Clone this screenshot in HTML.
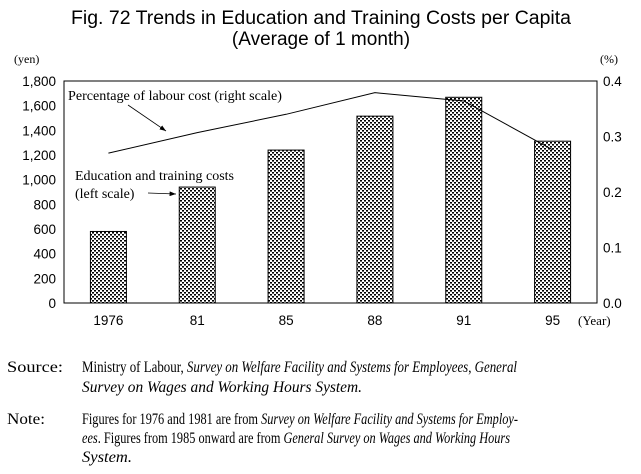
<!DOCTYPE html>
<html><head><meta charset="utf-8"><style>
body{margin:0;background:#fff;width:641px;height:474px;overflow:hidden}
svg{display:block}
.s{font-family:"Liberation Sans",sans-serif}
.r{font-family:"Liberation Serif",serif}
</style></head><body>
<svg id="c" width="641" height="474" viewBox="0 0 641 474">
<defs>
<pattern id="dots" width="4" height="4" patternUnits="userSpaceOnUse">
<rect width="4" height="4" fill="#fff"/>
<rect x="0" y="0" width="2" height="1.6" fill="#000"/>
<rect x="2" y="2" width="2" height="1.6" fill="#000"/>
</pattern>
<marker id="ah" markerWidth="8" markerHeight="6" refX="8" refY="3" orient="auto"><path d="M0,0 L8,3 L0,6 z" fill="#000"/></marker>
</defs>
<text class="s" x="321" y="24" font-size="19" text-anchor="middle" textLength="500" lengthAdjust="spacingAndGlyphs">Fig. 72  Trends in Education and Training Costs per Capita</text>
<text class="s" x="321" y="45" font-size="19" text-anchor="middle">(Average of 1 month)</text>
<text class="r" x="14" y="63" font-size="12">(yen)</text>
<text class="r" x="600" y="63" font-size="12">(%)</text>
<g id="plot"></g>
<text class="r" x="68" y="100" font-size="14" textLength="214" lengthAdjust="spacingAndGlyphs">Percentage of labour cost (right scale)</text>
<line x1="128" y1="105" x2="166" y2="131" stroke="#000" stroke-width="0.8" marker-end="url(#ah)"/>
<text class="r" x="75" y="180" font-size="14" textLength="159" lengthAdjust="spacingAndGlyphs">Education and training costs</text>
<text class="r" x="75" y="198" font-size="14">(left scale)</text>
<line x1="148" y1="193" x2="176" y2="194" stroke="#000" stroke-width="0.8" marker-end="url(#ah)"/>
<g font-family="Liberation Serif, serif" font-size="16">
<text x="7" y="372" textLength="56" lengthAdjust="spacingAndGlyphs">Source:</text>
<text x="82" y="372" textLength="435" lengthAdjust="spacingAndGlyphs">Ministry of Labour, <tspan font-style="italic">Survey on Welfare Facility and Systems for Employees</tspan>, <tspan font-style="italic">General</tspan></text>
<text x="82" y="392" font-style="italic" textLength="280" lengthAdjust="spacingAndGlyphs">Survey on Wages and Working Hours System.</text>
<text x="7" y="424" textLength="38" lengthAdjust="spacingAndGlyphs">Note:</text>
<text x="82" y="424" textLength="436" lengthAdjust="spacingAndGlyphs">Figures for 1976 and 1981 are from <tspan font-style="italic">Survey on Welfare Facility and Systems for Employ-</tspan></text>
<text x="82" y="443" textLength="428" lengthAdjust="spacingAndGlyphs"><tspan font-style="italic">ees</tspan>. Figures from 1985 onward are from <tspan font-style="italic">General Survey on Wages and Working Hours</tspan></text>
<text x="82" y="462" font-style="italic" textLength="50" lengthAdjust="spacingAndGlyphs">System.</text>
</g>
</svg>
<script>
const categories=["1976","81","85","88","91","95"];
const costs=[580,940,1240,1515,1668,1312];
const percent=[0.27,0.307,0.34,0.379,0.364,0.276];
const leftTicks=[0,200,400,600,800,1000,1200,1400,1600,1800];
const rightTicks=[0,0.1,0.2,0.3,0.4];
const L=64,R=597,T=81,B=303;
const NS="http://www.w3.org/2000/svg";
const g=document.getElementById('plot');
const yL=v=>B-v/1800*(B-T);
const yR=v=>B-v/0.4*(B-T);
const band=(R-L)/categories.length;
const xC=i=>L+band*(i+0.5);
function mk(t,a){const e=document.createElementNS(NS,t);for(const k in a)e.setAttribute(k,a[k]);g.appendChild(e);return e;}
costs.forEach((v,i)=>{
const r=mk('rect',{x:xC(i)-18,y:yL(v),width:36,height:B-yL(v),fill:'url(#dots)',stroke:'#000','stroke-width':1});


});
const frame=mk('rect',{x:L,y:T,width:R-L,height:B-T,fill:'none',stroke:'#000','stroke-width':1});


leftTicks.forEach(v=>{
const t=mk('text',{x:L-8,y:yL(v)+5,'font-size':13.5,'text-anchor':'end','font-family':'Liberation Sans, sans-serif'});
t.textContent=v.toLocaleString('en-US');


});
rightTicks.forEach(v=>{
const t=mk('text',{x:R+6,y:yR(v)+5,'font-size':13.5,'font-family':'Liberation Sans, sans-serif'});
t.textContent=v.toFixed(1);


});
categories.forEach((c,i)=>{
const t=mk('text',{x:xC(i),y:B+22,'font-size':13.5,'text-anchor':'middle','font-family':'Liberation Sans, sans-serif'});
t.textContent=c;


});
const yr=mk('text',{x:578,y:B+22,'font-size':13,'font-family':'Liberation Serif, serif'});
yr.textContent='(Year)';


const pl=mk('polyline',{points:percent.map((v,i)=>xC(i)+','+yR(v)).join(' '),fill:'none',stroke:'#000','stroke-width':1});


</script>
</body></html>
